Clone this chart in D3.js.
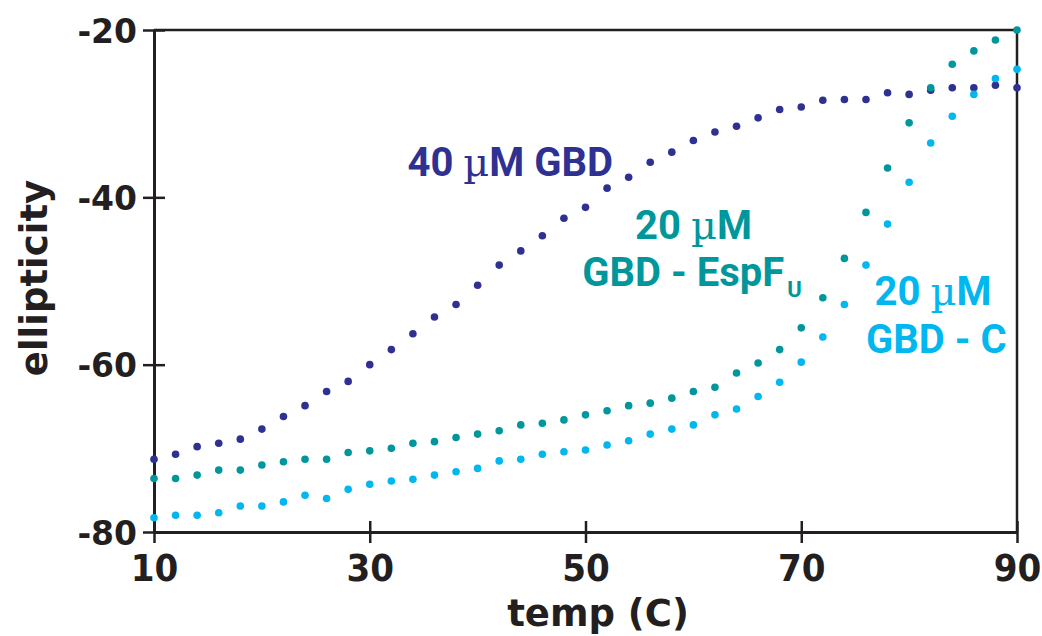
<!DOCTYPE html>
<html>
<head>
  <title>Ellipticity vs temperature</title>
  <script src="https://d3js.org/d3.v7.min.js"></script>
  <style>
    body, html {
      margin: 0;
      padding: 0;
      background: #fff;
      overflow: hidden;
    }
    .tick-y {
      font-family: "DejaVu Sans", sans-serif;
      font-weight: bold;
      font-size: 33px;
      fill: #231f20;
    }
    .tick-x {
      font-family: "DejaVu Sans Condensed", "DejaVu Sans", sans-serif;
      font-stretch: condensed;
      font-weight: bold;
      font-size: 38px;
      fill: #231f20;
    }
    .axis-title {
      font-family: "DejaVu Sans", sans-serif;
      font-weight: bold;
      font-size: 37px;
      fill: #231f20;
    }
    .series-label {
      font-family: "Liberation Sans Narrow", Roboto, sans-serif;
      font-weight: bold;
      font-size: 40px;
    }
    .mu {
      font-family: "DejaVu Serif", serif;
      font-weight: normal;
    }
  </style>
</head>
<body>
  <div id="chart"></div>

  <script>
    // temperatures (C), one reading every 2 degrees
    const temps = d3.range(10, 91, 2);

    // 40 uM GBD
    const gbd40 = [
      -71.3, -70.7, -69.8, -69.4, -68.9, -67.7, -66.2, -64.9, -63.2, -62.0,
      -60.0, -58.2, -56.3, -54.3, -52.8, -50.5, -48.1, -46.4, -44.6, -42.5,
      -41.2, -38.9, -37.6, -35.8, -34.6, -33.2, -32.2, -31.5, -30.5, -29.5,
      -29.2, -28.4, -28.3, -28.3, -27.5, -27.7, -27.2, -26.9, -26.9, -26.6,
      -26.9
    ];

    // 20 uM GBD - EspFU
    const gbdEspF = [
      -73.6, -73.6, -73.2, -72.6, -72.6, -72.0, -71.6, -71.3, -71.3, -70.5,
      -70.3, -70.0, -69.4, -69.2, -68.7, -68.3, -67.9, -67.2, -67.0, -66.6,
      -66.0, -65.5, -64.9, -64.6, -64.0, -63.2, -62.7, -61.0, -59.8, -58.2,
      -55.6, -52.0, -47.3, -41.8, -36.5, -31.1, -26.9, -24.1, -22.5, -21.2,
      -20.0
    ];

    // 20 uM GBD - C
    const gbdC = [
      -78.3, -78.0, -78.0, -77.7, -76.9, -76.9, -76.4, -75.6, -76.0, -74.9,
      -74.3, -73.9, -73.7, -73.2, -72.8, -72.4, -71.5, -71.3, -70.7, -70.4,
      -70.2, -69.6, -69.1, -68.3, -67.7, -67.2, -66.0, -65.3, -63.8, -62.1,
      -59.7, -56.7, -52.8, -48.1, -43.2, -38.2, -33.5, -30.3, -27.7, -25.8,
      -24.7
    ];

    const xTicks = [10, 30, 50, 70, 90];
    const yTicks = [-80, -60, -40, -20];

    const seriesNames = ["40 µM GBD", "20 µM GBD - EspFU", "20 µM GBD - C"];
    const seriesColors = ["#2e3192", "#00979c", "#00b7ef"];

    const width = 1042;
    const height = 636;

    const svg = d3.select("#chart")
      .append("svg")
      .attr("width", width)
      .attr("height", height);

    const x = d3.scaleLinear().domain([10, 90]).range([154, 1017]);
    const y = d3.scaleLinear().domain([-80, -20]).range([532, 30]);

    const ink = "#231f20";

    // frame: top and right border
    svg.append("path")
      .attr("d", `M${x(10)},${y(-20)}H${x(90)}V${y(-80)}`)
      .attr("fill", "none")
      .attr("stroke", ink)
      .attr("stroke-width", 2.5);

    // x axis, ticks cross the line
    const xAxis = svg.append("g")
      .attr("transform", `translate(0,${y(-80)})`)
      .call(d3.axisBottom(x).tickValues(xTicks).tickSize(11).tickSizeOuter(0).tickFormat(""));
    xAxis.select(".domain").attr("stroke", ink).attr("stroke-width", 3);
    xAxis.selectAll(".tick line")
      .attr("y1", -11)
      .attr("stroke", ink)
      .attr("stroke-width", 2.5);

    xAxis.selectAll(".tick")
      .append("text")
      .attr("class", "tick-x")
      .attr("text-anchor", "middle")
      .attr("y", 49)
      .text(d => d);

    // y axis
    const yAxis = svg.append("g")
      .attr("transform", `translate(${x(10)},0)`)
      .call(d3.axisLeft(y).tickValues(yTicks).tickSize(11).tickSizeOuter(0).tickFormat(""));
    yAxis.select(".domain").attr("stroke", ink).attr("stroke-width", 3);
    yAxis.selectAll(".tick line")
      .attr("x1", 11)
      .attr("stroke", ink)
      .attr("stroke-width", 2.5);

    yAxis.selectAll(".tick")
      .append("text")
      .attr("class", "tick-y")
      .attr("text-anchor", "end")
      .attr("x", -17)
      .attr("y", 12)
      .text(d => d);

    // axis titles
    svg.append("text")
      .attr("class", "axis-title")
      .attr("text-anchor", "middle")
      .attr("transform", "translate(47,278) rotate(-90)")
      .text("ellipticity");

    svg.append("text")
      .attr("class", "axis-title")
      .attr("text-anchor", "middle")
      .attr("x", 598)
      .attr("y", 626)
      .text("temp (C)");

    // dots
    const allSeries = [gbd40, gbdEspF, gbdC];
    allSeries.forEach((vals, i) => {
      svg.append("g")
        .attr("fill", seriesColors[i])
        .selectAll("circle")
        .data(vals.map((v, j) => ({ t: temps[j], v: v })))
        .join("circle")
        .attr("cx", d => x(d.t))
        .attr("cy", d => y(d.v))
        .attr("r", 3.8);
    });

    // in-plot labels, anchored in data units
    function label(lines, color) {
      lines.forEach(l => {
        const txt = svg.append("text")
          .attr("class", "series-label")
          .attr("fill", color)
          .attr("x", x(l.t))
          .attr("y", y(l.v));
        l.parts.forEach(p => {
          const ts = txt.append("tspan").text(p.s);
          if (p.mu) ts.attr("class", "mu");
          if (p.sub) ts.attr("font-size", 22).attr("dy", 11).attr("dx", 3);
        });
      });
    }

    label([
      { t: 33.5, v: -37.5, parts: [{ s: "40 " }, { s: "µ", mu: true }, { s: "M GBD" }] }
    ], seriesColors[0]);

    label([
      { t: 54.6, v: -45.0, parts: [{ s: "20 " }, { s: "µ", mu: true }, { s: "M" }] },
      { t: 49.7, v: -50.6, parts: [{ s: "GBD - EspF" }, { s: "U", sub: true }] }
    ], seriesColors[1]);

    label([
      { t: 76.8, v: -52.9, parts: [{ s: "20 " }, { s: "µ", mu: true }, { s: "M" }] },
      { t: 76.0, v: -58.6, parts: [{ s: "GBD - C" }] }
    ], seriesColors[2]);
  </script>
</body>
</html>
